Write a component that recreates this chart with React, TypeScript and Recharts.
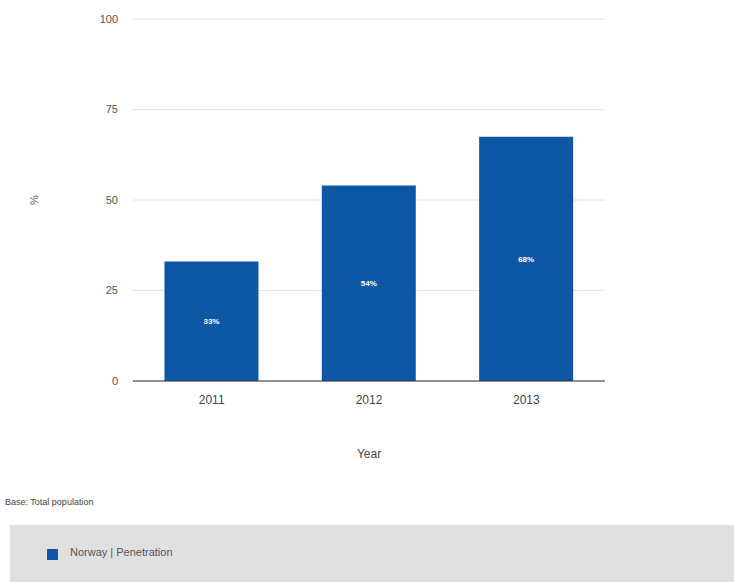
import { BarChart, Bar, XAxis, YAxis, CartesianGrid, LabelList } from "recharts";

const years = ["2011", "2012", "2013"];
const penetration = [33, 54, 67.5];
const yTicks = [0, 25, 50, 75, 100];

const data = years.map((y, i) => ({ year: y, value: penetration[i] }));
const BLUE = "#0d57a5";

export default function App() {
  return (
    <div style={{ position: "absolute", left: 0, top: 0, width: 734, height: 582, background: "#fff", fontFamily: "Arial, 'Liberation Sans', sans-serif" }}>
      <BarChart width={734} height={480} data={data} margin={{ top: 19, right: 129, bottom: 0, left: 0 }} barCategoryGap="20%">
        <CartesianGrid vertical={false} stroke="#e4e4e4" />
        <XAxis
          dataKey="year"
          height={99}
          tickLine={false}
          axisLine={{ stroke: "#333" }}
          tick={{ fontSize: 12, fill: "#444" }}
          tickMargin={8}
          label={{ value: "Year", position: "insideBottom", offset: 22, fontSize: 12, fill: "#444" }}
        />
        <YAxis
          width={133}
          domain={[0, 100]}
          ticks={yTicks}
          tickLine={false}
          axisLine={false}
          tick={{ fontSize: 11, fill: "#555" }}
          tickMargin={9}
          label={{ value: "%", angle: -90, position: "insideLeft", offset: 34, dy: 5, fontSize: 11, fill: "#555" }}
        />
        <Bar dataKey="value" fill={BLUE} isAnimationActive={false}>
          <LabelList dataKey="value" position="center" formatter={(v: number) => `${Math.round(v)}%`} style={{ fill: "#fff", fontSize: 8, fontWeight: "bold" }} />
        </Bar>
      </BarChart>
      <div style={{ position: "absolute", left: 5, top: 497, fontSize: 9, color: "#444" }}>Base: Total population</div>
      <div style={{ position: "absolute", left: 10, top: 525, width: 724, height: 57, background: "#e0e0e0" }}>
        <div style={{ position: "absolute", left: 37, top: 24, width: 11, height: 11, background: BLUE }} />
        <div style={{ position: "absolute", left: 60, top: 21, fontSize: 11, color: "#555" }}>Norway | Penetration</div>
      </div>
    </div>
  );
}
